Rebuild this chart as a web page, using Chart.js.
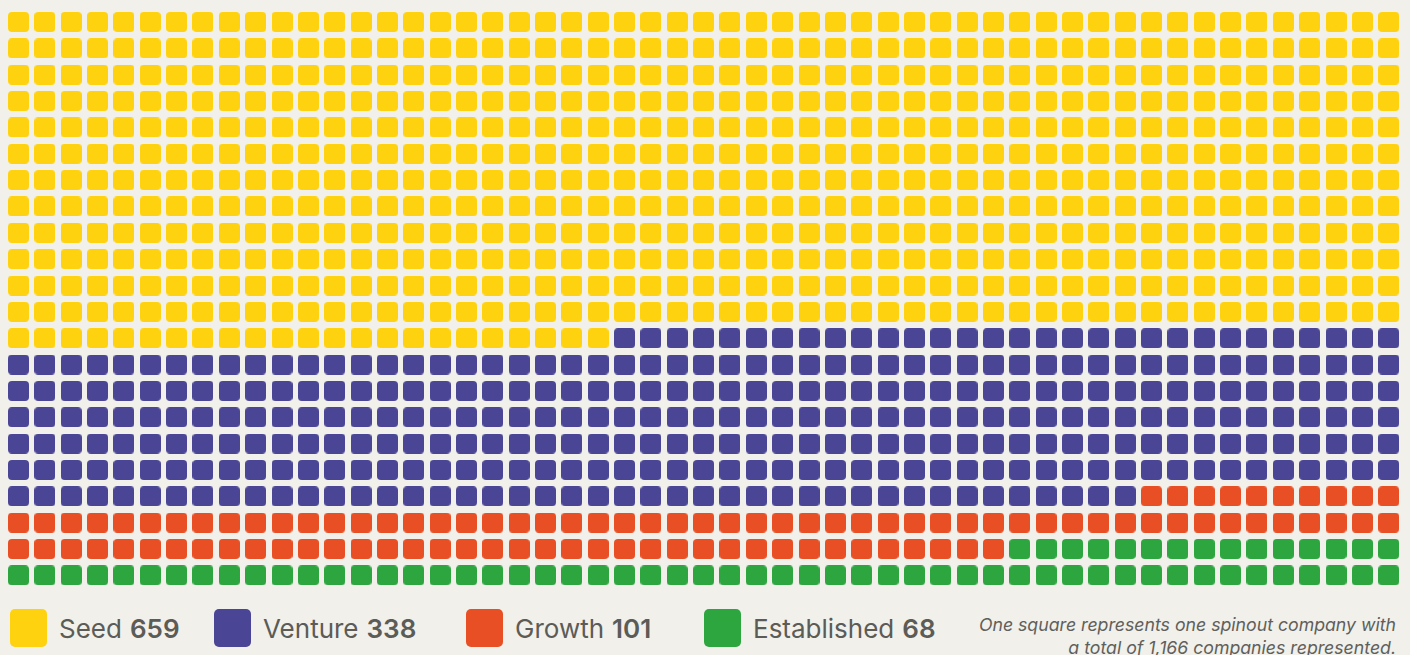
<!DOCTYPE html>
<html>
<head>
<meta charset="utf-8">
<script src="https://cdn.jsdelivr.net/npm/chart.js@4/dist/chart.umd.min.js"></script>
<style>
  html, body { margin: 0; padding: 0; background: #f1f0eb; overflow: hidden; }
  body { width: 1410px; height: 655px; position: relative; font-family: Inter, "Noto Sans", sans-serif; }
  #wrap { position: absolute; left: 0; top: 0; width: 1410px; height: 600px; }
  .key { position: absolute; top: 609px; height: 38px; display: flex; align-items: center; color: #5b5b57; font-size: 26px; white-space: nowrap; }
  .key i { display: inline-block; width: 37px; height: 38px; border-radius: 5px; margin-right: 12px; }
  .key b { font-weight: 600; margin-left: 8px; }
  #note { position: absolute; right: 14px; top: 613px; text-align: right; font-style: italic; font-size: 17.7px; line-height: 23px; color: #5f5f5b; }
</style>
</head>
<body>
<div id="wrap"><canvas id="canvas1"></canvas></div>
<div id="legend"></div>
<div id="note">One square represents one spinout company with<br>a total of 1,166 companies represented.</div>
<script>
const categories = ['Seed', 'Venture', 'Growth', 'Established'];
const counts = [659, 338, 101, 68];
const colors = ['#ffd20f', '#4a4594', '#e84f25', '#2ea640'];
const columns = 53;
const legendLeft = [10, 214, 466, 704];

// one little rounded square per colour, used as point style
function cell(color) {
  const c = document.createElement('canvas');
  c.width = 21;
  c.height = 20;
  const g = c.getContext('2d');
  g.fillStyle = color;
  g.beginPath();
  g.roundRect(0, 0, 21, 20, 4);
  g.fill();
  return c;
}

let idx = 0;
const datasets = categories.map(function (name, k) {
  const pts = [];
  for (let n = 0; n < counts[k]; n++) {
    pts.push({ x: idx % columns, y: Math.floor(idx / columns) });
    idx++;
  }
  return {
    label: name,
    data: pts,
    pointStyle: cell(colors[k]),
    backgroundColor: colors[k],
    borderColor: colors[k]
  };
});

const pitch = 26.35;
const canvas = document.getElementById('canvas1');
var ctx = canvas.getContext('2d');
var myChart = new Chart(ctx, {
  type: 'scatter',
  data: { datasets: datasets },
  options: {
    responsive: true,
    maintainAspectRatio: false,
    animation: false,
    layout: { padding: 0, autoPadding: false },
    plugins: { legend: { display: false } },
    scales: {
      x: { type: 'linear', display: false, min: -18.5 / pitch, max: (1410 - 18.5) / pitch },
      y: { type: 'linear', display: false, reverse: true, min: -22 / pitch, max: (600 - 22) / pitch }
    }
  }
});

const legend = document.getElementById('legend');
categories.forEach(function (name, k) {
  const d = document.createElement('div');
  d.className = 'key';
  d.style.left = legendLeft[k] + 'px';
  d.innerHTML = '<i style="background:' + colors[k] + '"></i>' + name + '<b>' + counts[k] + '</b>';
  legend.appendChild(d);
});
</script>
</body>
</html>
